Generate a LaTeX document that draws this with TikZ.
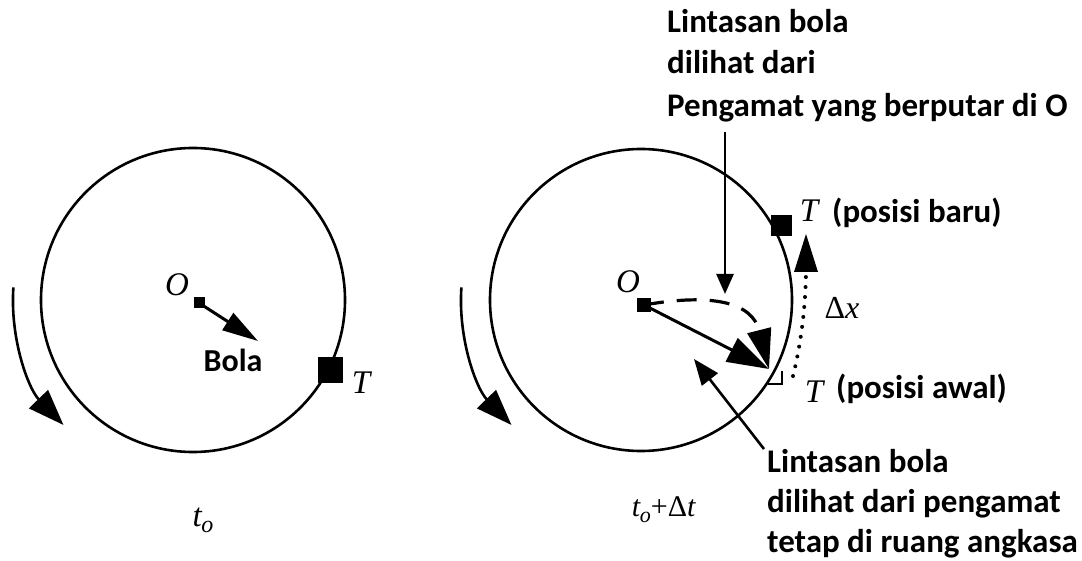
\documentclass[tikz,border=0pt]{standalone}
\usepackage{fontspec}
\setmainfont{Liberation Serif}
\newfontfamily\lab{Carlito}
\usetikzlibrary{arrows.meta}
\begin{document}
\begin{tikzpicture}[x=1pt,y=-1pt,
  lbl/.style={font=\lab\bfseries\fontsize{33}{38}\selectfont, inner sep=0, anchor=base west},
  sym/.style={font=\fontsize{33}{36}\selectfont\itshape, inner sep=0},
  ring/.style={line width=2.6pt},
  sq/.style={fill=black, draw=none, inner sep=0, minimum size=#1},
]
\useasboundingbox (0,0) rectangle (1082,561);

% ---------- left figure ----------
\coordinate (cL) at (193,300);
\draw[ring] (cL) circle[radius=152];
\coordinate (rotLa) at (13.4,287.4);
\draw[line width=2.6pt, -{Triangle[length=36pt,width=26pt]}] (rotLa) arc[start angle=184, end angle=136, radius=180];
\node[sym] (oLl) at (177,285) {O};
\node[sq=11pt] (oL) at (199,303) {};
\coordinate (bL) at (258,341);
\draw[line width=3pt, -{Triangle[length=36pt,width=20pt]}] (oL.center) -- (bL);
\node[font=\lab\bfseries\fontsize{32}{36}\selectfont, inner sep=0] (bola) at (233,360) {Bola};
\node[sq=25pt] (tL) at (330,370) {};
\node[sym] (tLl) at (361,383) {T};
\node[inner sep=0, font=\fontsize{33}{36}\selectfont] (t0) at (203,520) {\textit{t}\kern-1pt\raisebox{-6pt}{\fontsize{24}{26}\selectfont\textit{o}}};

% ---------- right figure ----------
\coordinate (cR) at (641,300);
\draw[ring] (cR) circle[radius=151];
\coordinate (rotRa) at (461.4,287.4);
\draw[line width=2.6pt, -{Triangle[length=36pt,width=26pt]}] (rotRa) arc[start angle=184, end angle=136, radius=180];
\node[sym] (oRl) at (628,282) {O};
\node[sq=14pt] (oR) at (644,305) {};
\coordinate (Ta) at (769,369);
\draw[line width=3pt, -{Triangle[length=42pt,width=26pt]}] (oR.center) -- (Ta);
\draw[line width=3.2pt, dash pattern=on 20pt off 13pt, -{Triangle[length=40pt,width=24pt]}]
  (oR.center) .. controls (712,293) and (752,302) .. (Ta);
\draw[line width=2.2pt] (768,384) -- (782,384) -- (782,371);
\node[sq=21pt] (tN) at (781,226) {};
\node[sym] (tNl) at (809,211) {T};
\node[lbl] (tNt) at (832,223) {(posisi baru)};
\node[sym] (tAl) at (814,392) {T};
\node[lbl] (tAt) at (836,399) {(posisi awal)};
\coordinate (dxa) at (793,376);
\coordinate (dxb) at (806,234);
\draw[line width=4pt, line cap=round, dash pattern=on 0pt off 10pt] (dxa) .. controls (802,340) and (806,300) .. (806,268);
\draw[line width=0pt, -{Triangle[length=38pt,width=24pt]}] (806,272) -- (dxb);
\node[inner sep=0, font=\fontsize{32}{36}\selectfont] (dx) at (842,308) {Δ\textit{x}};
\node[inner sep=0, font=\fontsize{30}{34}\selectfont] (tdt) at (664,510) {\textit{t}\kern-1pt\raisebox{-6pt}{\fontsize{22}{24}\selectfont\textit{o}}+Δ\textit{t}};

% ---------- top label ----------
\node[lbl] (top1) at (667,33) {Lintasan bola};
\node[lbl] (top2) at (667,74) {dilihat dari};
\node[lbl] (top3) at (667,117) {Pengamat yang berputar di O};
\coordinate (va) at (725,132);
\coordinate (vb) at (725,294);
\draw[line width=2.6pt, -{Triangle[length=20pt,width=17pt]}] (va) -- (vb);

% ---------- bottom label ----------
\node[lbl] (bot1) at (767,472) {Lintasan bola};
\node[lbl] (bot2) at (767,512) {dilihat dari pengamat};
\node[lbl] (bot3) at (767,552) {tetap di ruang angkasa};
\coordinate (pa) at (764,449);
\coordinate (pb) at (694,359);
\draw[line width=2.6pt, -{Triangle[length=26pt,width=20pt]}] (pa) -- (pb);
\end{tikzpicture}
\end{document}
